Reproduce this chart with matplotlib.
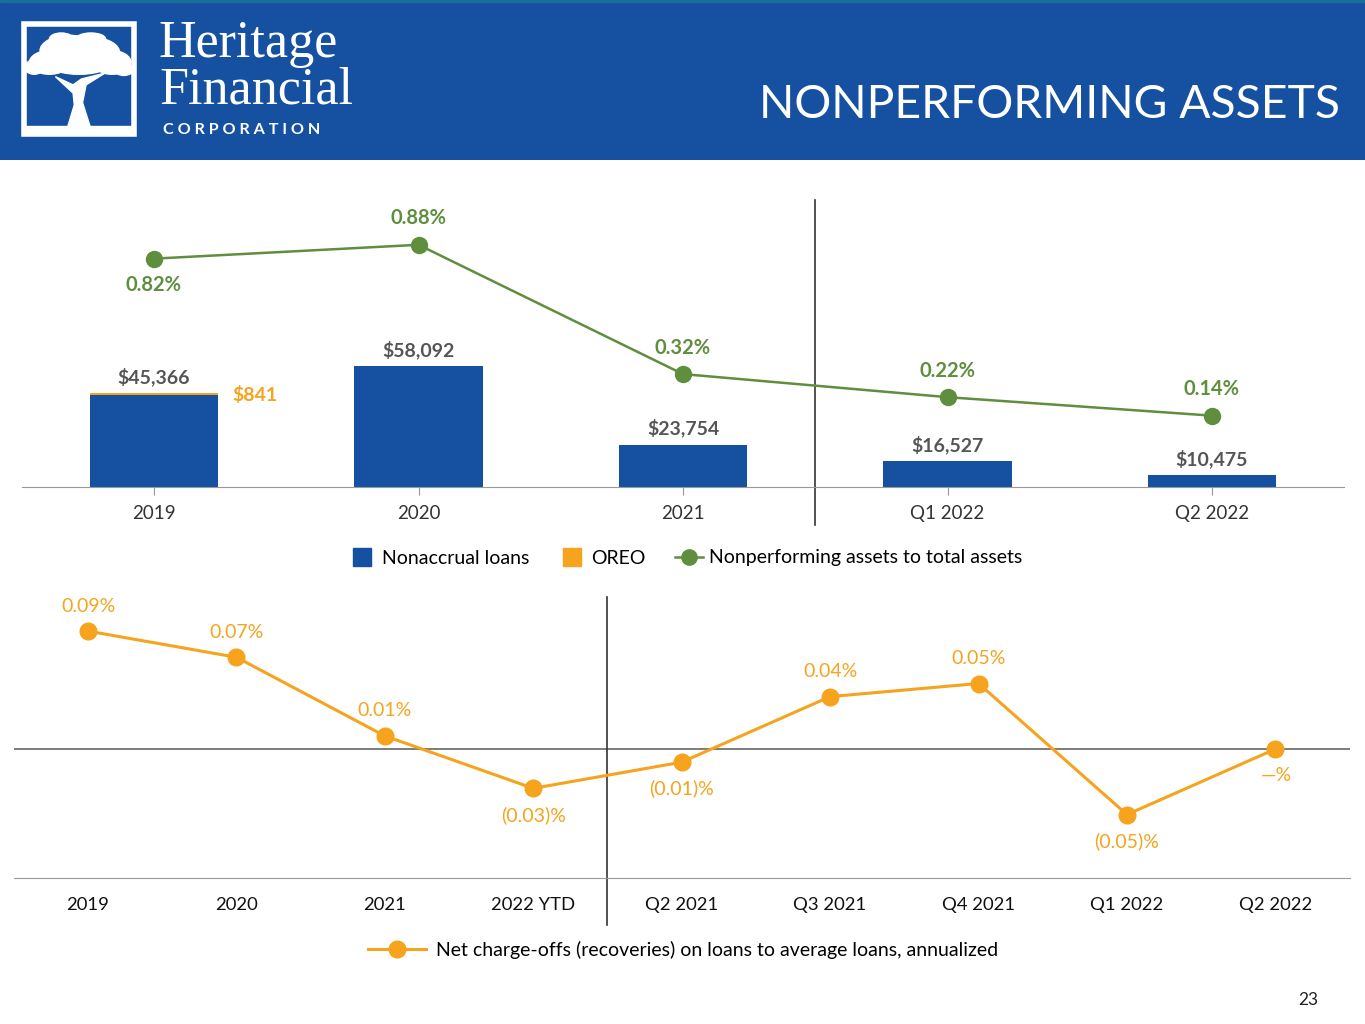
import numpy as np
import matplotlib
matplotlib.use("Agg")
import matplotlib.pyplot as plt
from matplotlib.patches import Patch, Rectangle, Ellipse, Polygon
from matplotlib.lines import Line2D
from matplotlib.legend_handler import HandlerPatch

plt.rcParams['font.family'] = ['Lato', 'DejaVu Sans']

# ---- data ----
top_cats = ['2019', '2020', '2021', 'Q1 2022', 'Q2 2022']
nonaccrual = [45366, 58092, 23754, 16527, 10475]
oreo = [841, 0, 0, 0, 0]
npa_ratio = [0.82, 0.88, 0.32, 0.22, 0.14]
npa_below = [True, False, False, False, False]

bot_cats = ['2019', '2020', '2021', '2022 YTD', 'Q2 2021', 'Q3 2021', 'Q4 2021', 'Q1 2022', 'Q2 2022']
nco = [0.09, 0.07, 0.01, -0.03, -0.01, 0.04, 0.05, -0.05, 0.0]
nco_labels = ['0.09%', '0.07%', '0.01%', '(0.03)%', '(0.01)%', '0.04%', '0.05%', '(0.05)%', '—%']

BLUE = '#1650A0'
ORANGE = '#F6A31E'
GREEN = '#5E8E3E'
GRAY = '#555555'

W, H = 1365, 1024
fig = plt.figure(figsize=(W / 100, H / 100), dpi=100)


def px_axes(x0, y0, x1, y1, **kw):
    return fig.add_axes([x0 / W, 1 - y1 / H, (x1 - x0) / W, (y1 - y0) / H], **kw)


def square_patch(legend, orig_handle, xdescent, ydescent, width, height, fontsize):
    s = 0.93 * fontsize
    return Rectangle((-xdescent + (width - s) / 2, -ydescent + (height - s) / 2), s, s)


# ---- header ----
hdr = px_axes(0, 0, W, 160)
hdr.set_xlim(0, 1)
hdr.set_ylim(0, 1)
hdr.axis('off')
hdr.add_patch(Rectangle((0, 0), 1, 1, color=BLUE))
hdr.add_patch(Rectangle((0, 0.985), 1, 0.015, color='#1A6E9A'))
fig.text(1340 / W, 1 - 105 / H, 'NONPERFORMING ASSETS', color='white', fontsize=33.3,
         ha='right', va='center')
fig.text(159 / W, 1 - 44 / H, 'Heritage', color='white', fontsize=37.5,
         family='Liberation Serif', ha='left', va='center')
fig.text(159 / W, 1 - 91 / H, 'Financial', color='white', fontsize=37.5,
         family='Liberation Serif', ha='left', va='center')
fig.text(163 / W, 1 - 130 / H, 'C O R P O R A T I O N', color='white', fontsize=11.6,
         fontweight='bold', ha='left', va='center')

# logo: frame + tree
logo = px_axes(20, 20, 138, 138)
logo.set_xlim(0, 1)
logo.set_ylim(0, 1)
logo.axis('off')
logo.add_patch(Rectangle((0.03, 0.03), 0.94, 0.94, fill=False, ec='white', lw=4))
for cx, cy, w, h in [(0.42, 0.74, 0.5, 0.26), (0.62, 0.72, 0.45, 0.26), (0.78, 0.64, 0.32, 0.2),
                     (0.25, 0.64, 0.34, 0.2), (0.12, 0.6, 0.16, 0.12), (0.88, 0.58, 0.16, 0.1),
                     (0.5, 0.62, 0.5, 0.16), (0.35, 0.84, 0.2, 0.1), (0.6, 0.84, 0.25, 0.1)]:
    logo.add_patch(Ellipse((cx, cy), w, h, color='white'))
logo.add_patch(Polygon([[0.4, 0.08], [0.6, 0.08], [0.53, 0.3], [0.56, 0.45], [0.72, 0.55],
                        [0.52, 0.5], [0.45, 0.45], [0.3, 0.52], [0.45, 0.38], [0.46, 0.28]],
                       color='white'))
logo.add_patch(Rectangle((0.03, 0.03), 0.94, 0.07, color='white'))

# ---- top chart ----
ax1 = px_axes(21.75, 200, 1344.25, 487)
x1 = np.arange(len(top_cats))
ax1.bar(x1, nonaccrual, width=0.484, color=BLUE, zorder=2)
ax1.bar(x1, oreo, bottom=nonaccrual, width=0.484, color=ORANGE, zorder=2)
ax1.set_xlim(-0.5, 4.5)
ax1.set_ylim(5240, 5240 + 287 * 436.9)
for s in ['top', 'right', 'left']:
    ax1.spines[s].set_visible(False)
ax1.spines['bottom'].set_color('#999999')
ax1.set_yticks([])
ax1.set_xticks(x1)
ax1.set_xticklabels(top_cats, fontsize=13.5, color='#333333')
ax1.tick_params(axis='x', length=6, color='#999999', pad=7)
for i, (n, o) in enumerate(zip(nonaccrual, oreo)):
    ax1.annotate('${:,}'.format(n), (i, n + o), xytext=(0, 5), textcoords='offset points',
                 ha='center', va='bottom', fontsize=14, fontweight='bold', color=GRAY)
    if o:
        ax1.annotate('${:,}'.format(o), (i + 0.242, n + o), xytext=(10, -1), textcoords='offset points',
                     ha='left', va='center', fontsize=14, fontweight='bold', color=ORANGE)
ax1.axvline(2.5, ymin=-(525 - 487) / 287, ymax=1, color='#333333', lw=1.2, clip_on=False)

ax1b = ax1.twinx()
ax1b.plot(x1, npa_ratio, color=GREEN, lw=1.8, marker='o', ms=11.5, zorder=3)
ax1b.set_ylim(-0.169, 1.074)
ax1b.axis('off')
for i, (v, below) in enumerate(zip(npa_ratio, npa_below)):
    ax1b.annotate('{:.2f}%'.format(v), (i, v), xytext=(0, -19 if below else 19),
                  textcoords='offset points', ha='center', va='center',
                  fontsize=14.5, fontweight='bold', color=GREEN)

handles = [Patch(color=BLUE), Patch(color=ORANGE),
           Line2D([], [], color=GREEN, lw=1.8, marker='o', ms=11)]
fig.legend(handles, ['Nonaccrual loans', 'OREO', 'Nonperforming assets to total assets'],
           loc='center', bbox_to_anchor=(685 / W, 1 - 558 / H), ncol=3, frameon=False,
           fontsize=14, handlelength=1.45, handletextpad=0.27, columnspacing=1.5,
           handler_map={Patch: HandlerPatch(patch_func=square_patch)})

# ---- bottom chart ----
ax2 = px_axes(13.8, 597, 1349.6, 878)
x2 = np.arange(len(bot_cats))
ax2.plot(x2, nco, color=ORANGE, lw=2.2, marker='o', ms=12, zorder=3)
ax2.set_xlim(-0.5, 8.5)
ax2.set_ylim(-0.0984, 0.116)
for s in ['top', 'right', 'left']:
    ax2.spines[s].set_visible(False)
ax2.spines['bottom'].set_color('#999999')
ax2.set_yticks([])
ax2.set_xticks(x2)
ax2.set_xticklabels(bot_cats, fontsize=13.3, color='#111111')
ax2.tick_params(axis='x', length=0, pad=14)
ax2.axhline(0, color='#666666', lw=1.2, zorder=1)
ax2.axvline(3.5, ymin=-(925 - 878) / 281, ymax=1, color='#333333', lw=1.2, clip_on=False)
for i, (v, lab) in enumerate(zip(nco, nco_labels)):
    below = v < 0 or lab == '—%'
    ax2.annotate(lab, (i, v), xytext=(1 if lab == '—%' else 0, -19 if below else 18),
                 textcoords='offset points', ha='center', va='center',
                 fontsize=14, color=ORANGE)

fig.legend([Line2D([], [], color=ORANGE, lw=2.2, marker='o', ms=12)],
           ['Net charge-offs (recoveries) on loans to average loans, annualized'],
           loc='center', bbox_to_anchor=(683 / W, 1 - 950 / H), frameon=False,
           fontsize=14, handlelength=3, handletextpad=0.5)

fig.text(1308 / W, 1 - 1000 / H, '23', fontsize=12.5, color='#222222', ha='center', va='center')

fig.savefig('out.png', dpi=100)
